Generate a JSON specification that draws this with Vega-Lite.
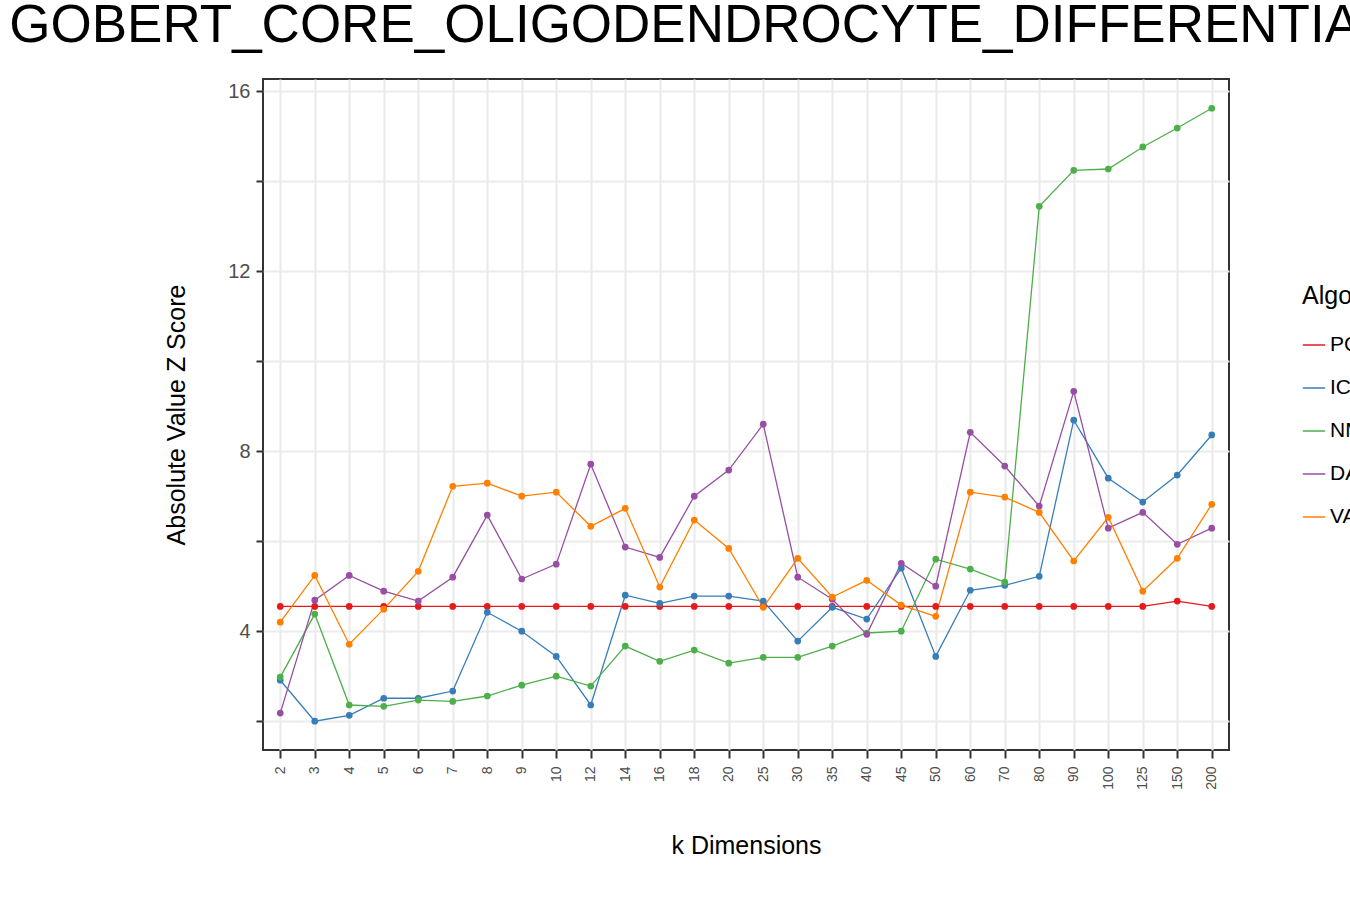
{
  "$schema": "https://vega.github.io/schema/vega-lite/v6.json",
  "width": 966,
  "height": 671,
  "padding": {"left": 9, "top": 0, "right": 10, "bottom": 10},
  "background": "white",
  "title": {"text": "GOBERT_CORE_OLIGODENDROCYTE_DIFFERENTIATION", "fontSize": 53, "font": "Liberation Sans", "fontWeight": "normal", "color": "black", "offset": 26, "anchor": "middle"},
  "data": {"values": [
    {"k": "2", "PCA": 4.55, "ICA": 2.91, "NMF": 2.98, "DAE": 2.18, "VAE": 4.2},
    {"k": "3", "PCA": 4.55, "ICA": 2.0, "NMF": 4.38, "DAE": 4.69, "VAE": 5.24},
    {"k": "4", "PCA": 4.55, "ICA": 2.13, "NMF": 2.36, "DAE": 5.24, "VAE": 3.71},
    {"k": "5", "PCA": 4.55, "ICA": 2.51, "NMF": 2.33, "DAE": 4.89, "VAE": 4.49},
    {"k": "6", "PCA": 4.55, "ICA": 2.51, "NMF": 2.47, "DAE": 4.67, "VAE": 5.33},
    {"k": "7", "PCA": 4.55, "ICA": 2.67, "NMF": 2.44, "DAE": 5.2, "VAE": 7.22},
    {"k": "8", "PCA": 4.55, "ICA": 4.42, "NMF": 2.56, "DAE": 6.58, "VAE": 7.29},
    {"k": "9", "PCA": 4.55, "ICA": 4.0, "NMF": 2.8, "DAE": 5.16, "VAE": 7.0},
    {"k": "10", "PCA": 4.55, "ICA": 3.44, "NMF": 3.0, "DAE": 5.49, "VAE": 7.09},
    {"k": "12", "PCA": 4.55, "ICA": 2.36, "NMF": 2.78, "DAE": 7.71, "VAE": 6.33},
    {"k": "14", "PCA": 4.55, "ICA": 4.8, "NMF": 3.67, "DAE": 5.87, "VAE": 6.73},
    {"k": "16", "PCA": 4.55, "ICA": 4.62, "NMF": 3.33, "DAE": 5.64, "VAE": 4.98},
    {"k": "18", "PCA": 4.55, "ICA": 4.78, "NMF": 3.58, "DAE": 7.0, "VAE": 6.47},
    {"k": "20", "PCA": 4.55, "ICA": 4.78, "NMF": 3.29, "DAE": 7.58, "VAE": 5.84},
    {"k": "25", "PCA": 4.55, "ICA": 4.67, "NMF": 3.42, "DAE": 8.6, "VAE": 4.53},
    {"k": "30", "PCA": 4.55, "ICA": 3.78, "NMF": 3.42, "DAE": 5.2, "VAE": 5.62},
    {"k": "35", "PCA": 4.55, "ICA": 4.53, "NMF": 3.67, "DAE": 4.71, "VAE": 4.76},
    {"k": "40", "PCA": 4.55, "ICA": 4.27, "NMF": 3.96, "DAE": 3.93, "VAE": 5.13},
    {"k": "45", "PCA": 4.55, "ICA": 5.4, "NMF": 4.0, "DAE": 5.51, "VAE": 4.58},
    {"k": "50", "PCA": 4.55, "ICA": 3.44, "NMF": 5.6, "DAE": 5.0, "VAE": 4.33},
    {"k": "60", "PCA": 4.55, "ICA": 4.91, "NMF": 5.38, "DAE": 8.42, "VAE": 7.09},
    {"k": "70", "PCA": 4.55, "ICA": 5.02, "NMF": 5.09, "DAE": 7.67, "VAE": 6.98},
    {"k": "80", "PCA": 4.55, "ICA": 5.22, "NMF": 13.44, "DAE": 6.78, "VAE": 6.64},
    {"k": "90", "PCA": 4.55, "ICA": 8.69, "NMF": 14.24, "DAE": 9.33, "VAE": 5.56},
    {"k": "100", "PCA": 4.55, "ICA": 7.4, "NMF": 14.27, "DAE": 6.29, "VAE": 6.53},
    {"k": "125", "PCA": 4.55, "ICA": 6.87, "NMF": 14.76, "DAE": 6.64, "VAE": 4.89},
    {"k": "150", "PCA": 4.67, "ICA": 7.47, "NMF": 15.18, "DAE": 5.93, "VAE": 5.62},
    {"k": "200", "PCA": 4.55, "ICA": 8.36, "NMF": 15.62, "DAE": 6.29, "VAE": 6.82}
  ]},
  "transform": [
    {"window": [{"op": "row_number", "as": "order"}]},
    {"fold": ["PCA", "ICA", "NMF", "DAE", "VAE"], "as": ["Algorithm", "z"]}
  ],
  "encoding": {
    "x": {"field": "k", "type": "ordinal", "sort": {"field": "order"}, "title": "k Dimensions",
      "scale": {"paddingOuter": 0.6},
      "axis": {"labelAngle": -90, "labelFontSize": 14, "labelColor": "#4d4d4d", "labelFont": "Liberation Sans", "labelPadding": 8,
        "titleFontSize": 25, "titleFont": "Liberation Sans", "titleFontWeight": "normal", "titleColor": "black", "titlePadding": 44,
        "grid": true, "gridColor": "#ebebeb", "gridWidth": 2.2, "domain": false, "tickColor": "#333333", "tickWidth": 2, "tickSize": 8}},
    "y": {"field": "z", "type": "quantitative", "title": "Absolute Value Z Score",
      "scale": {"domain": [1.36, 16.27], "nice": false, "zero": false},
      "axis": {"values": [2, 4, 6, 8, 10, 12, 14, 16], "labelExpr": "datum.value % 4 == 0 ? datum.label : ''",
        "labelFontSize": 20, "labelColor": "#4d4d4d", "labelFont": "Liberation Sans", "labelPadding": 6,
        "titleFontSize": 25, "titleFont": "Liberation Sans", "titleFontWeight": "normal", "titleColor": "black", "titlePadding": 38,
        "grid": true, "gridColor": "#ebebeb", "gridWidth": 2.2, "domain": false, "tickColor": "#333333", "tickWidth": 2, "tickSize": 7}},
    "color": {"field": "Algorithm", "type": "nominal",
      "scale": {"domain": ["PCA", "ICA", "NMF", "DAE", "VAE"], "range": ["#e41a1c", "#377eb8", "#4daf4a", "#984ea3", "#ff7f00"]},
      "legend": {"orient": "none", "legendX": 1039, "legendY": 205,
        "titleFontSize": 25, "titleFont": "Liberation Sans", "titleFontWeight": "normal", "titleColor": "black",
        "labelFontSize": 21, "labelFont": "Liberation Sans", "labelColor": "black", "symbolType": "stroke", "symbolSize": 500,
        "symbolStrokeWidth": 1.5, "rowPadding": 21, "titlePadding": 24, "padding": 0}}
  },
  "layer": [
    {"mark": {"type": "line", "strokeWidth": 1.3}},
    {"mark": {"type": "circle", "size": 45, "opacity": 1}, "encoding": {}}
  ],
  "config": {"view": {"stroke": "#333333", "strokeWidth": 2}}
}
